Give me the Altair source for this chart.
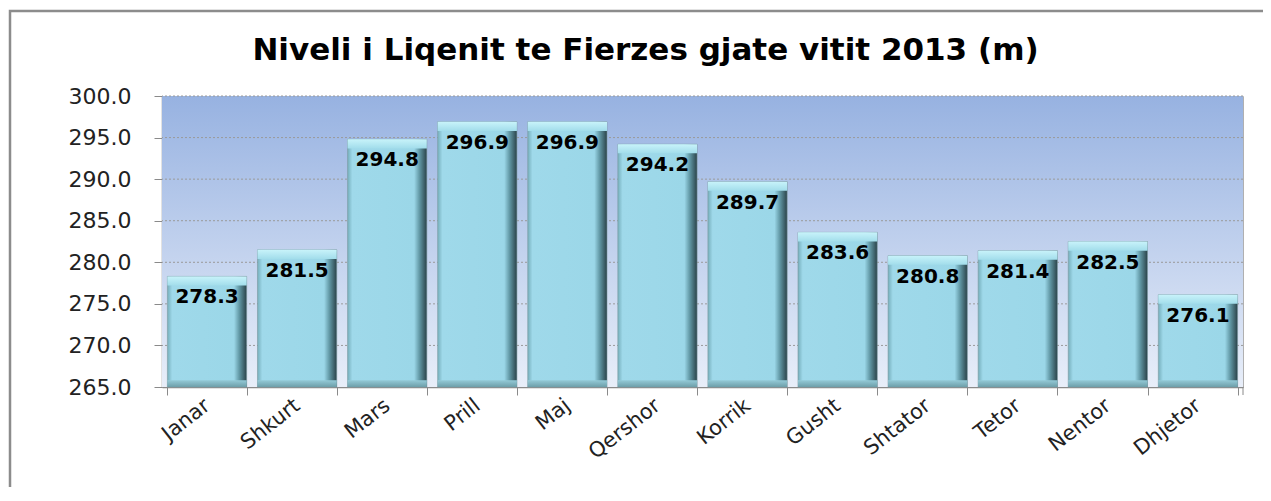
import altair as alt
import pandas as pd

months = ["Janar", "Shkurt", "Mars", "Prill", "Maj", "Qershor", "Korrik",
          "Gusht", "Shtator", "Tetor", "Nentor", "Dhjetor"]
levels = [278.3, 281.5, 294.8, 296.9, 296.9, 294.2, 289.7, 283.6, 280.8, 281.4, 282.5, 276.1]
y_ticks = [265, 270, 275, 280, 285, 290, 295, 300]
title_text = "Niveli i Liqenit te Fierzes gjate vitit 2013 (m)"

df = pd.DataFrame({"muaji": months, "v": levels})
grid_df = pd.DataFrame({"v": y_ticks[1:]})

W, H = 1081, 291

xenc = alt.X("muaji:N", sort=months, title=None,
             scale=alt.Scale(paddingInner=0.12, paddingOuter=0.06),
             axis=alt.Axis(labelAngle=-38, labelAlign="right", labelBaseline="middle",
                           labelPadding=8, tickBand="extent", tickSize=8,
                           labelFontSize=21))
yscale = alt.Scale(domain=[265, 300], nice=False, zero=False)
yenc = alt.Y("v:Q", scale=yscale, title=None,
             axis=alt.Axis(values=y_ticks, format=".1f", tickSize=8, labelPadding=23,
                           labelFontSize=22, grid=False))

body_grad = alt.Gradient(gradient="linear", x1=0, x2=1, y1=0, y2=0, stops=[
    alt.GradientStop(offset=0.0, color="#75aebb"),
    alt.GradientStop(offset=0.06, color="#9fd9ea"),
    alt.GradientStop(offset=0.84, color="#9bd7e8"),
    alt.GradientStop(offset=0.91, color="#5f95a2"),
    alt.GradientStop(offset=1.0, color="#2a4249"),
])
top_grad = alt.Gradient(gradient="linear", x1=0, x2=0, y1=0, y2=1, stops=[
    alt.GradientStop(offset=0.0, color="#c8f3fa"),
    alt.GradientStop(offset=1.0, color="#a2ddeb"),
])
bot_grad = alt.Gradient(gradient="linear", x1=0, x2=0, y1=0, y2=1, stops=[
    alt.GradientStop(offset=0.0, color="#93c9d6"),
    alt.GradientStop(offset=1.0, color="#6d9ea9"),
])
bg_grad = alt.Gradient(gradient="linear", x1=0, x2=0, y1=0, y2=1, stops=[
    alt.GradientStop(offset=0.0, color="#97b2e1"),
    alt.GradientStop(offset=1.0, color="#e8eef9"),
])

one = alt.Data(values=[{}])

background = alt.Chart(one).mark_rect(fill=bg_grad).encode(
    x=alt.value(0), x2=alt.value(W), y=alt.value(0), y2=alt.value(H))

grid = alt.Chart(grid_df).mark_rule(color="#9a9a9a", strokeDash=[2, 2], strokeWidth=1).encode(
    y=yenc)

base = alt.Chart(df)

bars = base.mark_bar(fill=body_grad, stroke="#7c9aa1", strokeWidth=0.6).encode(
    x=xenc, y=yenc, y2=alt.datum(265))

top_cap = base.transform_calculate(lo="datum.v - 1.1").mark_bar(
    fill=top_grad).encode(x=xenc, y=yenc, y2="lo:Q")

bot_cap = base.mark_bar(fill=bot_grad).encode(
    x=xenc, y=alt.datum(265.8), y2=alt.datum(265))

labels = base.mark_text(dy=21, baseline="middle", font="DejaVu Sans",
                        fontWeight="bold", fontSize=20, color="#000000").encode(
    x=xenc, y=yenc, text=alt.Text("v:Q", format=".1f"))

end_tick = alt.Chart(one).mark_rule(color="#8a8a8a").encode(
    x=alt.value(W), y=alt.value(H), y2=alt.value(H + 8))

frame = alt.Chart(one).mark_rect(
    fill=None, stroke="#8c8c8c", strokeWidth=2.5).encode(
    x=alt.value(-152), x2=alt.value(W + 60), y=alt.value(-85), y2=alt.value(H + 200))

title = alt.Chart(one).mark_text(
    font="DejaVu Sans", fontSize=31, fontWeight="bold", color="#000000",
    align="center", baseline="alphabetic").encode(
    x=alt.value(W / 2 - 57), y=alt.value(-36), text=alt.value(title_text))

chart = alt.layer(background, grid, bars, bot_cap, top_cap, labels, end_tick, frame, title).properties(
    width=W, height=H,
    padding={"left": 154, "top": 88, "right": 20, "bottom": 100},
    autosize=alt.AutoSizeParams(type="none"),
    background="white",
).configure_view(
    stroke="#b0b0b0", strokeWidth=1
).configure_axis(
    labelFont="DejaVu Sans", labelColor="#222222",
    domainColor="#8a8a8a", tickColor="#8a8a8a", domainWidth=1.5
)

chart.save("out.html", embed_options={"renderer": "svg", "actions": False})
